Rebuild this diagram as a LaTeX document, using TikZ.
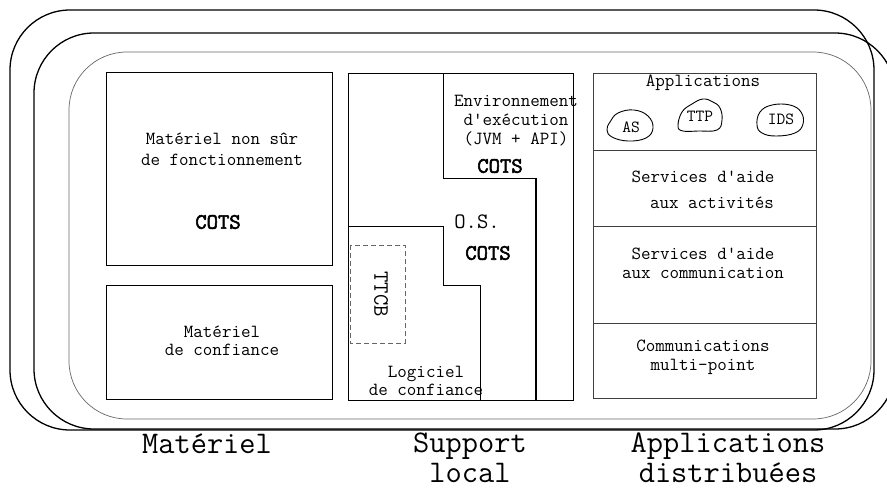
\documentclass[tikz,border=0pt]{standalone}
\usepackage{fontspec}
\newfontfamily\cotsfont{Latin Modern Mono}[FakeBold=2.5]
\begin{document}
\begin{tikzpicture}[x=1pt,y=-1pt,
  outerline/.style={draw=black, line width=1.3pt},
  innerline/.style={draw=black!60, line width=0.7pt},
  boxline/.style={draw=black, line width=0.9pt},
  rboxline/.style={draw=black!75, line width=0.8pt},
  blobline/.style={draw=black, line width=0.9pt},
  txt/.style={font=\ttfamily\fontsize{18.5}{19}\selectfont, align=center, inner sep=0pt},
  cots/.style={font=\cotsfont\fontsize{22}{22}\selectfont, inner sep=0pt},
  bigtxt/.style={font=\ttfamily\fontsize{31.5}{30}\selectfont, align=center, inner sep=0pt, anchor=base}]
\useasboundingbox (0,0) rectangle (887,490);
\clip (0,0) rectangle (887,490);
% enclosing rounded frames
\draw[outerline, rounded corners=60pt] (10,10) rectangle (874,430);
\draw[outerline, rounded corners=60pt] (34,33) rectangle (895,429);
\draw[innerline, rounded corners=58pt] (69,52) rectangle (871,419);
% left column
\draw[boxline] (106,72) rectangle (332,265);
\draw[boxline] (106,285) rectangle (332,399);
\node[txt, font=\ttfamily\fontsize{18.5}{21}\selectfont] (mns) at (222,149) {Matériel non sûr\\de fonctionnement};
\node[cots] (cots1) at (218,222) {COTS};
\node[txt, font=\ttfamily\fontsize{18.5}{18}\selectfont] (mdc) at (222,341) {Matériel\\de confiance};
% middle column
\draw[boxline] (348,73) rectangle (573,400);
\draw[boxline] (443,73) -- (443,178) -- (536,178);
\draw[draw=black, line width=1.5pt] (536,178) -- (536,400);
\draw[boxline] (348,226) -- (443,226) -- (443,285) -- (480,285) -- (480,400);
\draw[draw=black!60, line width=0.9pt, dash pattern=on 5pt off 3pt] (350,245) rectangle (405,343);
\node[txt] (env) at (516,121) {Environnement\\d'exécution\\(JVM + API)};
\node[cots] (cots2) at (500,166) {COTS};
\node[font=\ttfamily\fontsize{22}{22}\selectfont, inner sep=0pt] (os) at (477,222) {O.S.};
\node[cots] (cots3) at (488,253) {COTS};
\node[font=\ttfamily\fontsize{22}{22}\selectfont, inner sep=0pt, rotate=-90] (ttcb) at (381,294) {TTCB};
\node[txt, font=\ttfamily\fontsize{18.5}{17.5}\selectfont] (ldc) at (426,381) {Logiciel\\de confiance};
% right column
\draw[rboxline] (593,73) rectangle (816,398);
\draw[rboxline] (593,150) -- (816,150);
\draw[rboxline] (593,226) -- (816,226);
\draw[rboxline] (593,323) -- (816,323);
\node[txt] (apps) at (703,83) {Applications};
\draw[blobline] plot[smooth cycle, tension=0.7] coordinates {(610,122) (618,113) (634,110) (648,116) (653,128) (646,138) (628,141) (612,137) (607,130)};
\draw[blobline] plot[smooth cycle, tension=0.7] coordinates {(678,126) (682,112) (692,104) (703,99) (713,102) (720,108) (722,120) (717,130) (698,131) (683,131)};
\draw[blobline] plot[smooth cycle, tension=0.7] coordinates {(757,125) (760,112) (772,105) (790,105) (801,112) (803,124) (795,133) (776,136) (762,133)};
\node[font=\ttfamily\fontsize{17}{17}\selectfont, inner sep=0pt] (as) at (631,127) {AS};
\node[font=\ttfamily\fontsize{17}{17}\selectfont, inner sep=0pt] (ttp) at (700,116) {TTP};
\node[font=\ttfamily\fontsize{17}{17}\selectfont, inner sep=0pt] (ids) at (781,119) {IDS};
\node[txt] (sa1) at (703,177) {Services d'aide};
\node[txt] (sa2) at (712,203) {aux activités};
\node[txt] (sc) at (703,263) {Services d'aide\\aux communication};
\node[txt] (cm) at (703,357) {Communications\\multi-point};
% bottom labels
\node[bigtxt] (lmat) at (207,453) {Matériel};
\node[bigtxt] (lsup) at (470,482) {Support\\local};
\node[bigtxt] (lapp) at (728,482) {Applications\\distribuées};
\end{tikzpicture}
\end{document}
